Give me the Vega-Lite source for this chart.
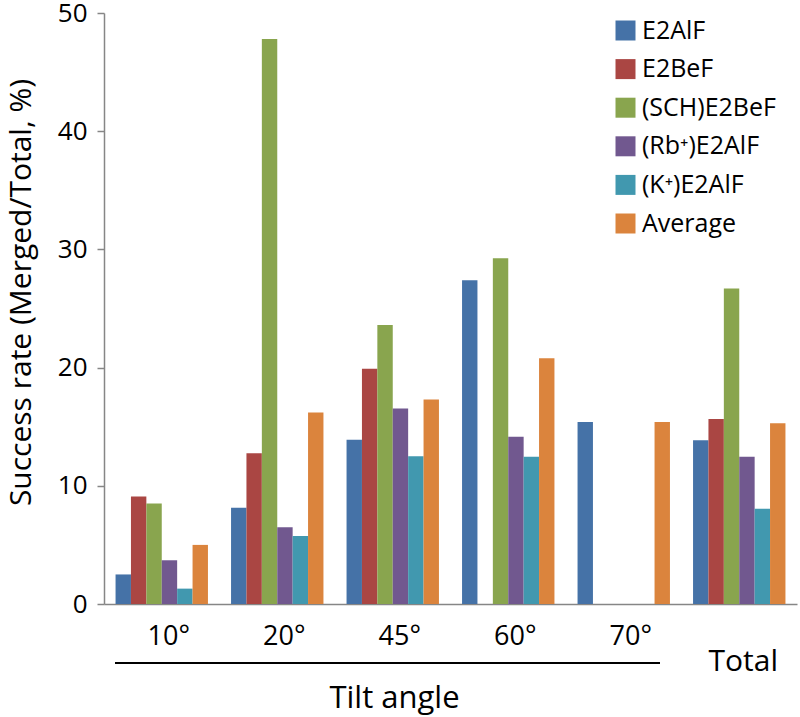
{
  "$schema": "https://vega.github.io/schema/vega-lite/v6.json",
  "autosize": "none",
  "width": 693,
  "height": 591,
  "padding": {"left": 104, "top": 13, "right": 3, "bottom": 113},
  "background": "white",
  "config": {"view": {"stroke": null}, "font": "Open Sans"},
  "data": {"values": [
    {"angle": "10°", "series": "E2AlF", "value": 2.5},
    {"angle": "10°", "series": "E2BeF", "value": 9.1},
    {"angle": "10°", "series": "(SCH)E2BeF", "value": 8.5},
    {"angle": "10°", "series": "(Rb⁺)E2AlF", "value": 3.7},
    {"angle": "10°", "series": "(K⁺)E2AlF", "value": 1.3},
    {"angle": "10°", "series": "Average", "value": 5.0},
    {"angle": "20°", "series": "E2AlF", "value": 8.15},
    {"angle": "20°", "series": "E2BeF", "value": 12.75},
    {"angle": "20°", "series": "(SCH)E2BeF", "value": 47.8},
    {"angle": "20°", "series": "(Rb⁺)E2AlF", "value": 6.5},
    {"angle": "20°", "series": "(K⁺)E2AlF", "value": 5.75},
    {"angle": "20°", "series": "Average", "value": 16.2},
    {"angle": "45°", "series": "E2AlF", "value": 13.9},
    {"angle": "45°", "series": "E2BeF", "value": 19.9},
    {"angle": "45°", "series": "(SCH)E2BeF", "value": 23.6},
    {"angle": "45°", "series": "(Rb⁺)E2AlF", "value": 16.55},
    {"angle": "45°", "series": "(K⁺)E2AlF", "value": 12.5},
    {"angle": "45°", "series": "Average", "value": 17.3},
    {"angle": "60°", "series": "E2AlF", "value": 27.4},
    {"angle": "60°", "series": "(SCH)E2BeF", "value": 29.25},
    {"angle": "60°", "series": "(Rb⁺)E2AlF", "value": 14.15},
    {"angle": "60°", "series": "(K⁺)E2AlF", "value": 12.45},
    {"angle": "60°", "series": "Average", "value": 20.8},
    {"angle": "70°", "series": "E2AlF", "value": 15.4},
    {"angle": "70°", "series": "Average", "value": 15.4},
    {"angle": "Total", "series": "E2AlF", "value": 13.85},
    {"angle": "Total", "series": "E2BeF", "value": 15.65},
    {"angle": "Total", "series": "(SCH)E2BeF", "value": 26.7},
    {"angle": "Total", "series": "(Rb⁺)E2AlF", "value": 12.45},
    {"angle": "Total", "series": "(K⁺)E2AlF", "value": 8.06},
    {"angle": "Total", "series": "Average", "value": 15.3}
  ]},
  "layer": [
    {
      "mark": {"type": "bar"},
      "encoding": {
        "x": {
          "field": "angle", "type": "nominal", "sort": null,
          "scale": {"domain": ["10°", "20°", "45°", "60°", "70°", "Total"], "paddingInner": 0.2, "paddingOuter": 0.1},
          "axis": {
            "title": "Tilt angle",
            "titleFontSize": 31, "titleFontWeight": "normal", "titleColor": "black",
            "titleX": 290, "titleY": 103, "titleBaseline": "alphabetic", "titleAnchor": null,
            "ticks": false,
            "domainColor": "#868686", "domainWidth": 1.5,
            "labelAngle": 0,
            "labelColor": "black",
            "labelFontSize": {"condition": {"test": "datum.value == 'Total'", "value": 30}, "value": 27},
            "labelOffset": {"condition": {"test": "datum.value == 'Total'", "value": 4}, "value": 7},
            "labelPadding": {"condition": {"test": "datum.value == 'Total'", "value": 42}, "value": 19}
          }
        },
        "xOffset": {
          "field": "series", "type": "nominal",
          "scale": {"domain": ["E2AlF", "E2BeF", "(SCH)E2BeF", "(Rb⁺)E2AlF", "(K⁺)E2AlF", "Average"], "paddingInner": 0, "paddingOuter": 0}
        },
        "y": {
          "field": "value", "type": "quantitative",
          "scale": {"domain": [0, 50], "nice": false},
          "axis": {
            "title": "Success rate (Merged/Total, %)",
            "titleFontSize": 30, "titleFontWeight": "normal", "titleColor": "black",
            "titleX": -83, "titleY": 279, "titleBaseline": "middle", "titleAnchor": null,
            "values": [0, 10, 20, 30, 40, 50],
            "grid": false,
            "tickSize": 7, "tickColor": "#868686", "tickWidth": 1.5,
            "domainColor": "#868686", "domainWidth": 1.5,
            "labelFontSize": 26, "labelColor": "black", "labelPadding": 10
          }
        },
        "color": {
          "field": "series", "type": "nominal",
          "scale": {
            "domain": ["E2AlF", "E2BeF", "(SCH)E2BeF", "(Rb⁺)E2AlF", "(K⁺)E2AlF", "Average"],
            "range": ["#4572A7", "#AA4643", "#89A54E", "#71588F", "#4198AF", "#DB843D"]
          },
          "legend": {
            "title": null,
            "orient": "none", "legendX": 509, "legendY": 5,
            "padding": 0,
            "symbolType": "square", "symbolSize": 400, "symbolStrokeWidth": 0, "symbolOpacity": 1,
            "labelFontSize": 25, "labelColor": "black", "labelOffset": 4,
            "rowPadding": 12.6
          }
        }
      }
    },
    {
      "mark": {"type": "rule", "color": "black", "strokeWidth": 1.5, "xOffset": -46, "x2Offset": 36},
      "encoding": {
        "x": {"datum": "10°", "type": "nominal"},
        "x2": {"datum": "70°"},
        "y": {"datum": -5, "type": "quantitative"}
      }
    }
  ]
}
